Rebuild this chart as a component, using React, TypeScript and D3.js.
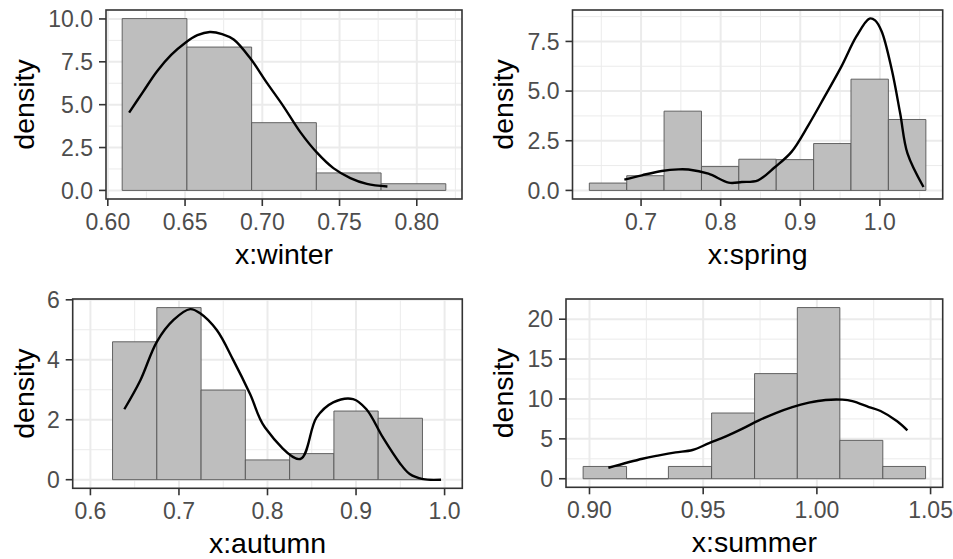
import React from 'react';
import * as d3 from 'd3';

// winter
const winterEdges = [0.6093, 0.6512, 0.6931, 0.735, 0.7769, 0.8188];
const winterBars = [10.02, 8.36, 3.95, 1.02, 0.39];
const winterCurveX = [0.6138, 0.6228, 0.6319, 0.641, 0.65, 0.658, 0.666, 0.674, 0.6815, 0.692, 0.703, 0.7138, 0.7246, 0.7354, 0.746, 0.757, 0.7677, 0.781];
const winterCurveY = [4.54, 5.75, 6.95, 7.9, 8.6, 9.05, 9.24, 9.12, 8.8, 7.73, 6.27, 4.89, 3.4, 2.2, 1.3, 0.72, 0.38, 0.23];
const winterXTicks = [0.6, 0.65, 0.7, 0.75, 0.8];
const winterYTicks = [0, 2.5, 5, 7.5, 10];

// spring
const springEdges = [0.635, 0.682, 0.7289, 0.7759, 0.8228, 0.8698, 0.9168, 0.9637, 1.0107, 1.0578];
const springBars = [0.37, 0.74, 3.99, 1.2, 1.57, 1.55, 2.36, 5.6, 3.57];
const springCurveX = [0.679, 0.701, 0.726, 0.747, 0.7595, 0.7846, 0.81, 0.8265, 0.847, 0.8684, 0.889, 0.9103, 0.9306, 0.9516, 0.9705, 0.987, 0.994, 1.0023, 1.015, 1.0255, 1.0347, 1.0548];
const springCurveY = [0.54, 0.76, 0.98, 1.06, 1.05, 0.84, 0.39, 0.42, 0.51, 1.18, 1.94, 3.29, 4.72, 6.23, 7.75, 8.65, 8.56, 8.0, 6.07, 3.88, 1.86, 0.17];
const springXTicks = [0.7, 0.8, 0.9, 1.0];
const springYTicks = [0, 2.5, 5, 7.5];

// autumn
const autumnEdges = [0.625, 0.675, 0.725, 0.775, 0.825, 0.875, 0.925, 0.975];
const autumnBars = [4.6, 5.74, 2.99, 0.66, 0.87, 2.29, 2.05];
const autumnCurveX = [0.6383, 0.6563, 0.675, 0.6939, 0.7127, 0.7239, 0.7427, 0.7615, 0.7803, 0.7972, 0.837, 0.8553, 0.8742, 0.8967, 0.9117, 0.9305, 0.9493, 0.9606, 0.9756, 0.996];
const autumnCurveY = [2.35, 3.31, 4.6, 5.33, 5.69, 5.55, 4.99, 3.98, 2.86, 1.74, 0.69, 2.07, 2.58, 2.69, 2.35, 1.4, 0.56, 0.19, 0.02, 0];
const autumnXLimits = [0.6, 1.0];
const autumnXTicks = [0.6, 0.7, 0.8, 0.9, 1.0];
const autumnYTicks = [0, 2, 4, 6];

// summer
const summerEdges = [0.8972, 0.9163, 0.9347, 0.9537, 0.9726, 0.9914, 1.0101, 1.029, 1.0478];
const summerBars = [1.54, 0, 1.54, 8.24, 13.18, 21.46, 4.81, 1.54];
const summerCurveX = [0.9083, 0.9233, 0.9306, 0.9379, 0.9453, 0.9526, 0.96, 0.9673, 0.9745, 0.9819, 0.9892, 0.9965, 1.0038, 1.0112, 1.0156, 1.0229, 1.028, 1.0353, 1.0398];
const summerCurveY = [1.38, 2.51, 2.93, 3.3, 3.6, 4.47, 5.31, 6.28, 7.32, 8.24, 8.99, 9.54, 9.88, 9.92, 9.74, 8.99, 8.49, 7.2, 6.06];
const summerXTicks = [0.9, 0.95, 1.0, 1.05];
const summerYTicks = [0, 5, 10, 15, 20];

const FONT = '"Liberation Sans", Arial, sans-serif';

type Box = { left: number; top: number; right: number; bottom: number };
type PanelDef = {
  title: string;
  edges: number[];
  bars: number[];
  curveX: number[];
  curveY: number[];
  xLimits?: number[];
  xTicks: number[];
  yTicks: number[];
  xFmt: string;
  yFmt: string;
  box: Box;
  yTitleX: number;
};

const panels: PanelDef[] = [
  { title: 'x:winter', edges: winterEdges, bars: winterBars, curveX: winterCurveX, curveY: winterCurveY,
    xTicks: winterXTicks, yTicks: winterYTicks, xFmt: '.2f', yFmt: '.1f',
    box: { left: 106, top: 10, right: 462, bottom: 199 }, yTitleX: 33.5 },
  { title: 'x:spring', edges: springEdges, bars: springBars, curveX: springCurveX, curveY: springCurveY,
    xTicks: springXTicks, yTicks: springYTicks, xFmt: '.1f', yFmt: '.1f',
    box: { left: 572.5, top: 10, right: 942.7, bottom: 199 }, yTitleX: 513 },
  { title: 'x:autumn', edges: autumnEdges, bars: autumnBars, curveX: autumnCurveX, curveY: autumnCurveY,
    xLimits: autumnXLimits, xTicks: autumnXTicks, yTicks: autumnYTicks, xFmt: '.1f', yFmt: 'd',
    box: { left: 72.7, top: 299, right: 462.3, bottom: 488.3 }, yTitleX: 33.5 },
  { title: 'x:summer', edges: summerEdges, bars: summerBars, curveX: summerCurveX, curveY: summerCurveY,
    xTicks: summerXTicks, yTicks: summerYTicks, xFmt: '.2f', yFmt: 'd',
    box: { left: 566, top: 299, right: 942.7, bottom: 487.3 }, yTitleX: 513 },
];

// ggplot-style 5% padding on both ends
const expand = ([a, b]: number[]) => {
  const r = b - a;
  return [a - 0.05 * r, b + 0.05 * r];
};

const minorBreaks = (ticks: number[], domain: number[]) => {
  const step = ticks[1] - ticks[0];
  const out: number[] = [];
  for (let k = -1; k < ticks.length; k++) {
    const v = ticks[0] + step * (k + 0.5);
    if (v > domain[0] && v < domain[1]) out.push(v);
  }
  return out;
};

const Panel = ({ p }: { p: PanelDef }) => {
  const { box } = p;
  const xl = p.xLimits ?? (d3.extent(p.edges.concat(p.curveX)) as number[]);
  const ymax = d3.max(p.bars.concat(p.curveY)) as number;
  const x = d3.scaleLinear().domain(expand(xl)).range([box.left, box.right]);
  const y = d3.scaleLinear().domain(expand([0, ymax])).range([box.bottom, box.top]);
  const xMinor = minorBreaks(p.xTicks, x.domain());
  const yMinor = minorBreaks(p.yTicks, y.domain());
  const xf = d3.format(p.xFmt);
  const yf = d3.format(p.yFmt);

  const line = d3
    .line<number>()
    .x((_, i) => x(p.curveX[i]))
    .y((d) => y(d))
    .curve(d3.curveCatmullRom.alpha(0.5));

  // path instead of rect so an empty bin still shows its base line
  const barPath = (i: number) => {
    const pa = d3.path();
    const x0 = x(p.edges[i]);
    const x1 = x(p.edges[i + 1]);
    const y0 = y(0);
    const y1 = y(p.bars[i]);
    pa.moveTo(x0, y0);
    pa.lineTo(x0, y1);
    pa.lineTo(x1, y1);
    pa.lineTo(x1, y0);
    pa.closePath();
    return pa.toString();
  };

  const cx = (box.left + box.right) / 2;
  const cy = (box.top + box.bottom) / 2;

  return (
    <g>
      <rect x={box.left} y={box.top} width={box.right - box.left} height={box.bottom - box.top} fill="#fff" />
      {xMinor.map((v) => (
        <line key={'xm' + v} x1={x(v)} x2={x(v)} y1={box.top} y2={box.bottom} stroke="#EBEBEB" strokeWidth={1} />
      ))}
      {yMinor.map((v) => (
        <line key={'ym' + v} y1={y(v)} y2={y(v)} x1={box.left} x2={box.right} stroke="#EBEBEB" strokeWidth={1} />
      ))}
      {p.xTicks.map((v) => (
        <line key={'xg' + v} x1={x(v)} x2={x(v)} y1={box.top} y2={box.bottom} stroke="#EBEBEB" strokeWidth={2} />
      ))}
      {p.yTicks.map((v) => (
        <line key={'yg' + v} y1={y(v)} y2={y(v)} x1={box.left} x2={box.right} stroke="#EBEBEB" strokeWidth={2} />
      ))}
      {p.bars.map((_, i) => (
        <path key={'b' + i} d={barPath(i)} fill="#BEBEBE" stroke="#555555" strokeWidth={0.9} />
      ))}
      <path d={line(p.curveY) ?? ''} fill="none" stroke="#000" strokeWidth={2.4} strokeLinejoin="round" />
      <rect x={box.left} y={box.top} width={box.right - box.left} height={box.bottom - box.top} fill="none" stroke="#333333" strokeWidth={1.6} />
      {p.xTicks.map((v) => (
        <g key={'xt' + v}>
          <line x1={x(v)} x2={x(v)} y1={box.bottom} y2={box.bottom + 7} stroke="#333333" strokeWidth={1.6} />
          <text x={x(v)} y={box.bottom + 31} textAnchor="middle" fontFamily={FONT} fontSize={23} fill="#4D4D4D">
            {xf(v)}
          </text>
        </g>
      ))}
      {p.yTicks.map((v) => (
        <g key={'yt' + v}>
          <line x1={box.left - 7} x2={box.left} y1={y(v)} y2={y(v)} stroke="#333333" strokeWidth={1.6} />
          <text x={box.left - 13} y={y(v)} dy="0.36em" textAnchor="end" fontFamily={FONT} fontSize={23} fill="#4D4D4D">
            {yf(v)}
          </text>
        </g>
      ))}
      <text x={cx} y={box.bottom + 65} textAnchor="middle" fontFamily={FONT} fontSize={28.5} fill="#000">
        {p.title}
      </text>
      <text
        transform={`translate(${p.yTitleX},${cy}) rotate(-90)`}
        textAnchor="middle"
        fontFamily={FONT}
        fontSize={28.5}
        fill="#000"
      >
        density
      </text>
    </g>
  );
};

const App = () => (
  <svg width={953} height={559} style={{ position: 'absolute', left: 0, top: 0, background: '#fff' }}>
    <rect width={953} height={559} fill="#fff" />
    {panels.map((p) => (
      <Panel key={p.title} p={p} />
    ))}
  </svg>
);

export default App;
